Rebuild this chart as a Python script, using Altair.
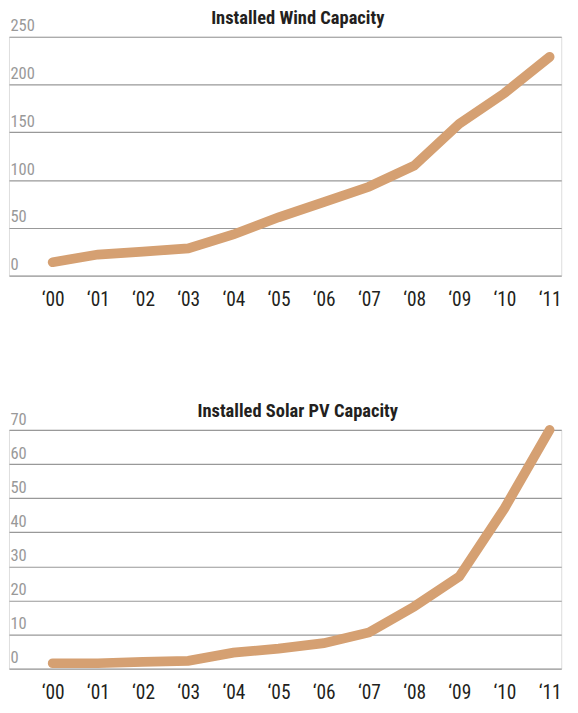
import altair as alt
import pandas as pd

years = [2000, 2001, 2002, 2003, 2004, 2005, 2006, 2007, 2008, 2009, 2010, 2011]
wind = [14, 22, 25, 28.5, 43, 61, 77, 93, 115, 159, 191, 229]
solar = [1.6, 1.6, 2.0, 2.3, 4.7, 5.9, 7.5, 10.6, 18.2, 27, 47, 70]
wind_ticks = [0, 50, 100, 150, 200, 250]
solar_ticks = [0, 10, 20, 30, 40, 50, 60, 70]

FONT = "Roboto Condensed, Liberation Sans Narrow, Roboto, sans-serif"
LINE = "#D5A072"


def panel(values, ticks, ymax, title):
    df = pd.DataFrame({"year": years, "value": values})
    x = alt.X(
        "year:Q",
        scale=alt.Scale(domain=[1999.033, 2011.257], nice=False, zero=False),
        axis=alt.Axis(
            values=years, title=None, grid=False, domain=False, ticks=False,
            labelExpr="'\u2018' + substring(toString(datum.value), 2)",
            labelFont=FONT, labelFontSize=20, labelColor="#231f20",
            labelPadding=15, labelFlush=False,
        ),
    )
    y = alt.Y(
        "value:Q",
        scale=alt.Scale(domain=[0, ymax], nice=False),
        axis=alt.Axis(
            values=ticks, title=None, grid=True, gridColor="#999999", gridWidth=1.2,
            domain=False, ticks=False, labelAlign="left", labelBaseline="alphabetic",
            labelPadding=-1, labelOffset=-6, labelFont=FONT, labelFontSize=17,
            labelColor="#999999",
        ),
    )
    return alt.Chart(df).mark_line(
        color=LINE, strokeWidth=10, strokeCap="round", strokeJoin="miter"
    ).encode(x=x, y=y).properties(
        width=569, height=246,
        title=alt.TitleParams(
            text=title, font=FONT, fontSize=19, fontWeight="bold", color="#231f20",
            baseline="alphabetic", offset=-26, dx=13, anchor="middle", frame="group",
        ),
    )


top = panel(wind, wind_ticks, 250, "Installed Wind Capacity")
bottom = panel(solar, solar_ticks, 70, "Installed Solar PV Capacity")

chart = alt.vconcat(top, bottom, spacing=94).properties(
    padding={"top": -10, "left": 0, "right": 0, "bottom": 0}
).configure_view(stroke=None).configure(background="white")

chart.save("out.html", embed_options={"renderer": "svg", "actions": False})
